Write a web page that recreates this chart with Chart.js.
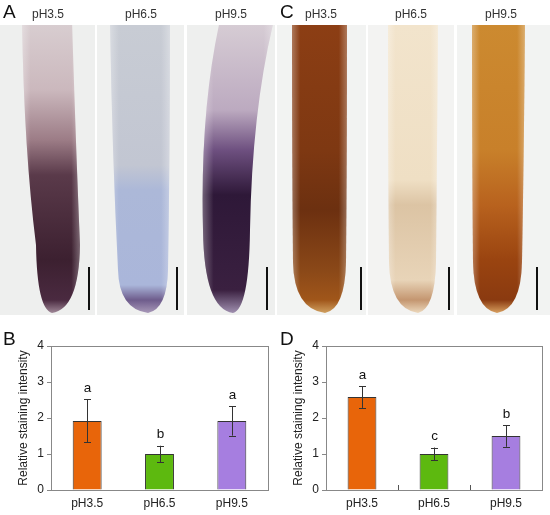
<!DOCTYPE html>
<html>
<head>
<meta charset="utf-8">
<script src="https://cdn.jsdelivr.net/npm/chart.js@4.4.1/dist/chart.umd.min.js"></script>
<style>
  body{margin:0;background:#fff;font-family:"Liberation Sans",Arial,sans-serif;}
  #wrap{position:relative;width:550px;height:515px;overflow:hidden;}
  .box{position:absolute;}
  .panel{position:absolute;font-size:19px;color:#111;}
  .ph{position:absolute;font-size:12px;color:#333;width:90px;text-align:center;}
</style>
</head>
<body>
<div id="wrap">
  <canvas id="photos" class="box" width="550" height="330" style="left:0;top:0"></canvas>
  <div class="panel" style="left:3px;top:1px">A</div>
  <div class="panel" style="left:280px;top:1px">C</div>
  <div class="panel" style="left:3px;top:328px">B</div>
  <div class="panel" style="left:280px;top:328px">D</div>
  <div class="ph" style="left:3px;top:7px">pH3.5</div>
  <div class="ph" style="left:96px;top:7px">pH6.5</div>
  <div class="ph" style="left:186px;top:7px">pH9.5</div>
  <div class="ph" style="left:276px;top:7px">pH3.5</div>
  <div class="ph" style="left:366px;top:7px">pH6.5</div>
  <div class="ph" style="left:456px;top:7px">pH9.5</div>
  <div class="box" style="left:0;top:330px;width:275px;height:185px"><canvas id="chartB"></canvas></div>
  <div class="box" style="left:275px;top:330px;width:275px;height:185px"><canvas id="chartD"></canvas></div>
</div>
<script>
// DATA
let labels=["pH3.5","pH6.5","pH9.5"];
let stainB=[1.92,1.0,1.92];
let errB=[0.6,0.23,0.41];
let letterB=["a","b","a"];
let stainD=[2.58,1.0,1.5];
let errD=[0.3,0.18,0.3];
let letterD=["a","c","b"];
let barColors=["#E8650A","#5DB90F","#A67EE0"];
let yTicks=[0,1,2,3,4];

// PHOTOS (decoration only)
function root(ctx,r){
  ctx.save();
  ctx.beginPath();
  ctx.rect(r.px0,25,r.px1-r.px0,290);
  ctx.clip();
  ctx.fillStyle=r.bg;
  ctx.fillRect(r.px0,25,r.px1-r.px0,290);
  ctx.beginPath();
  ctx.moveTo(r.lt,20);
  ctx.quadraticCurveTo(r.lc[0],r.lc[1],r.lm,r.ym);
  ctx.quadraticCurveTo(r.lm+1,r.ty-4,r.tx,r.ty);
  ctx.quadraticCurveTo(r.rm-1,r.ty-4,r.rm,r.ym);
  ctx.quadraticCurveTo(r.rc[0],r.rc[1],r.rt,20);
  ctx.closePath();
  let g=ctx.createLinearGradient(0,25,0,r.ty);
  r.stops.forEach(s=>g.addColorStop((s[0]-25)/(r.ty-25),s[1]));
  ctx.fillStyle=g;
  ctx.fill();
  // soft edges
  let h=ctx.createLinearGradient(Math.min(r.lt,r.lm),0,Math.max(r.rt,r.rm),0);
  h.addColorStop(0,"rgba(255,255,255,0.3)");
  h.addColorStop(0.15,"rgba(255,255,255,0)");
  h.addColorStop(0.85,"rgba(255,255,255,0)");
  h.addColorStop(1,"rgba(255,255,255,0.3)");
  ctx.fillStyle=h;
  ctx.fill();
  ctx.restore();
  // scale bar
  ctx.fillStyle="#111";
  ctx.fillRect(r.sb,267,2,43);
}

let pc=document.getElementById("photos").getContext("2d");
pc.fillStyle="#fff";pc.fillRect(0,0,550,330);
[
 {px0:0,px1:95,bg:"#eeefee",lt:22,rt:72,lc:[24,150],rc:[76,150],lm:36,rm:80,ym:245,tx:52,ty:313,sb:88,
  stops:[[25,"#d8cdd0"],[90,"#cbb8bd"],[140,"#9c7c86"],[175,"#5a3a4a"],[260,"#3c2030"],[300,"#4a2a40"],[313,"#a08898"]]},
 {px0:97,px1:184,bg:"#eff0ef",lt:110,rt:170,lc:[112,150],rc:[170,150],lm:118,rm:168,ym:270,tx:148,ty:313,sb:176,
  stops:[[25,"#c8ccd4"],[165,"#c2c6d2"],[190,"#acb8d8"],[285,"#aab6da"],[300,"#6e5c8c"],[313,"#a898b8"]]},
 {px0:187,px1:275,bg:"#eeefee",lt:220,rt:274,lc:[200,110],rc:[252,110],lm:203,rm:250,ym:230,tx:233,ty:313,sb:266,
  stops:[[25,"#d6ccd4"],[110,"#bcaac0"],[150,"#6e5080"],[195,"#2e1838"],[290,"#3a2040"],[313,"#a090b0"]]},
 {px0:277,px1:366,bg:"#f2f3f2",lt:292,rt:347,lc:[292,150],rc:[347,150],lm:293,rm:346,ym:262,tx:325,ty:313,sb:360,
  stops:[[25,"#8c3e14"],[150,"#7e3812"],[210,"#6c3010"],[270,"#8a4818"],[300,"#a0561a"],[313,"#d0a060"]]},
 {px0:368,px1:454,bg:"#f3f3f2",lt:388,rt:438,lc:[388,150],rc:[437,150],lm:389,rm:436,ym:262,tx:418,ty:313,sb:448,
  stops:[[25,"#f2e4cc"],[180,"#efdfc4"],[205,"#dcc4a4"],[280,"#e8d4b8"],[300,"#c49670"],[313,"#ecd8bc"]]},
 {px0:457,px1:550,bg:"#f2f3f2",lt:472,rt:525,lc:[472,150],rc:[524,150],lm:473,rm:522,ym:262,tx:497,ty:313,sb:536,
  stops:[[25,"#cc8a30"],[150,"#c8802a"],[205,"#b8621e"],[260,"#9a4410"],[300,"#8a3a10"],[313,"#d8a060"]]}
].forEach(r=>root(pc,r));

// CHART PLUGIN: frame, error bars, letters
const extras={
  id:"extras",
  afterDatasetsDraw(chart,args,opts){
    let ctx=chart.ctx, a=chart.chartArea;
    let x=chart.scales.x, y=chart.scales.y;
    ctx.save();
    ctx.strokeStyle="#333";
    ctx.lineWidth=1;
    opts.err.forEach((e,i)=>{
      let v=chart.data.datasets[0].data[i];
      let px=Math.round(x.getPixelForValue(i))+0.5;
      let top=y.getPixelForValue(v+e), bot=y.getPixelForValue(v-e);
      ctx.beginPath();
      ctx.moveTo(px,top);ctx.lineTo(px,bot);
      ctx.moveTo(px-3.5,Math.round(top)+0.5);ctx.lineTo(px+3.5,Math.round(top)+0.5);
      ctx.moveTo(px-3.5,Math.round(bot)+0.5);ctx.lineTo(px+3.5,Math.round(bot)+0.5);
      ctx.stroke();
      ctx.fillStyle="#111";
      ctx.font="13.5px 'Liberation Sans', Arial";
      ctx.textAlign="center";
      ctx.textBaseline="middle";
      ctx.fillText(opts.letters[i],px,top-11);
    });
    ctx.strokeStyle="#888";
    ctx.strokeRect(Math.round(a.left)+0.5,Math.round(a.top)+0.5,Math.round(a.right-a.left),Math.round(a.bottom-a.top));
    if(opts.sepTicks){
      ctx.strokeStyle="#555";
      for(let i=1;i<labels.length;i++){
        let px=Math.round((x.getPixelForValue(i-1)+x.getPixelForValue(i))/2)+0.5;
        ctx.beginPath();ctx.moveTo(px,a.bottom);ctx.lineTo(px,a.bottom-5);ctx.stroke();
      }
    }
    ctx.restore();
  }
};

function makeChart(id,values,err,letters,padRight,sepTicks){
  return new Chart(document.getElementById(id),{
    type:"bar",
    data:{labels,datasets:[{data:values,backgroundColor:barColors,borderColor:"#333",borderWidth:1,
      barPercentage:0.4,categoryPercentage:1}]},
    options:{
      responsive:true,maintainAspectRatio:false,animation:false,
      layout:{padding:{left:16,right:padRight,top:16,bottom:0}},
      plugins:{legend:{display:false},tooltip:{enabled:false},
        extras:{err,letters,sepTicks}},
      scales:{
        x:{grid:{display:false,drawTicks:false},border:{display:false},
          ticks:{color:"#222",font:{size:12,family:"'Liberation Sans', Arial"},padding:6},
          afterFit:s=>{s.height=25;}},
        y:{min:0,max:4,
          afterBuildTicks:s=>{s.ticks=yTicks.map(v=>({value:v}));},
          grid:{drawOnChartArea:false,tickLength:4,color:"#888"},
          border:{display:false},
          ticks:{color:"#222",font:{size:12,family:"'Liberation Sans', Arial"},padding:3},
          title:{display:true,text:"Relative staining intensity",color:"#222",
            font:{size:12,family:"'Liberation Sans', Arial"},padding:{top:0,bottom:2}},
          afterFit:s=>{s.width=35;}}
      }
    },
    plugins:[extras]
  });
}

makeChart("chartB",stainB,errB,letterB,7,false);
makeChart("chartD",stainD,errD,letterD,8,true);
</script>
</body>
</html>
